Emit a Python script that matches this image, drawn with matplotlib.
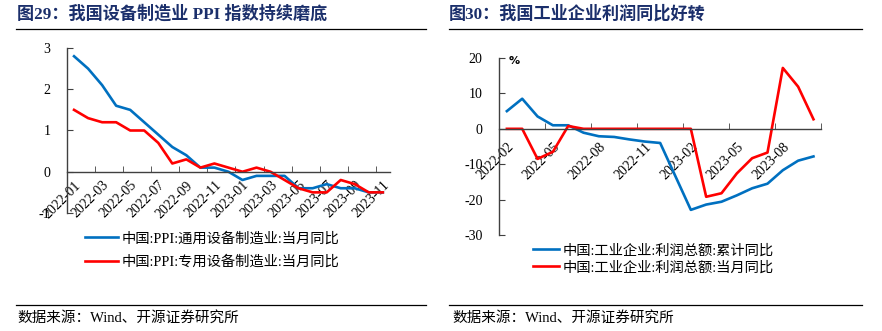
import numpy as np
import matplotlib
matplotlib.use('Agg')
import matplotlib.pyplot as plt
from matplotlib.lines import Line2D

plt.rcParams['font.family'] = ['Liberation Serif', 'Noto Sans CJK SC']
plt.rcParams['axes.unicode_minus'] = False

# left chart: PPI of equipment manufacturing, monthly yoy
months_l = ['2022-01', '2022-02', '2022-03', '2022-04', '2022-05', '2022-06',
            '2022-07', '2022-08', '2022-09', '2022-10', '2022-11', '2022-12',
            '2023-01', '2023-02', '2023-03', '2023-04', '2023-05', '2023-06',
            '2023-07', '2023-08', '2023-09', '2023-10', '2023-11']
ppi_general = [2.8, 2.5, 2.1, 1.6, 1.5, 1.2, 0.9, 0.6, 0.4, 0.1, 0.1, 0.0,
               -0.2, -0.1, -0.1, -0.1, -0.4, -0.4, -0.3, -0.4, -0.4, -0.5, -0.5]
ppi_special = [1.5, 1.3, 1.2, 1.2, 1.0, 1.0, 0.7, 0.2, 0.3, 0.1, 0.2, 0.1,
               0.0, 0.1, 0.0, -0.2, -0.4, -0.5, -0.5, -0.2, -0.3, -0.5, -0.5]
name_general = '中国:PPI:通用设备制造业:当月同比'
name_special = '中国:PPI:专用设备制造业:当月同比'

# right chart: industrial profits yoy (Jan 2023 cumulative not published)
months_r = ['2022-02', '2022-03', '2022-04', '2022-05', '2022-06', '2022-07',
            '2022-08', '2022-09', '2022-10', '2022-11', '2022-12', '2023-01',
            '2023-02', '2023-03', '2023-04', '2023-05', '2023-06', '2023-07',
            '2023-08', '2023-09', '2023-10']
profit_cum = [5.0, 8.5, 3.5, 1.0, 1.0, -1.1, -2.1, -2.3, -3.0, -3.6, -4.0, np.nan,
              -22.9, -21.4, -20.6, -18.8, -16.8, -15.5, -11.7, -9.0, -7.8]
profit_month = [0, 0, -8.5, -6.5, 0.8, 0, 0, 0, 0, 0, 0, 0,
                0, -19.2, -18.2, -12.6, -8.3, -6.7, 17.2, 11.9, 2.7]
name_cum = '中国:工业企业:利润总额:累计同比'
name_month = '中国:工业企业:利润总额:当月同比'

BLUE = '#0070C0'
RED = '#FF0000'
NAVY = '#1B2F6B'
AX = '#404040'

fig = plt.figure(figsize=(8.82, 3.31), dpi=100)


def style_axis(ax, n, step, yticks, xpad):
    ax.set_xlim(-0.5, n - 0.5)
    ax.set_ylim(yticks[0], yticks[-1])
    for s in ['top', 'right']:
        ax.spines[s].set_visible(False)
    ax.spines['bottom'].set_position(('data', 0))
    for s in ['left', 'bottom']:
        ax.spines[s].set_color(AX)
        ax.spines[s].set_linewidth(1.0)
    ax.set_yticks(yticks)
    ax.tick_params(axis='y', direction='in', length=4, color=AX, pad=12,
                   labelsize=10)
    ax.set_xticks(np.arange(-0.5, n, step), minor=True)
    ax.tick_params(axis='x', which='minor', direction='in', length=4, color=AX)
    ax.tick_params(axis='x', which='major', length=0, pad=xpad, labelsize=10)


# ---- left chart
ax1 = fig.add_axes([0.076, 0.3565, 0.366, 0.4985])
x_l = np.arange(len(months_l))
ax1.plot(x_l, ppi_general, color=BLUE, lw=1.9, label=name_general)
ax1.plot(x_l, ppi_special, color=RED, lw=1.9, label=name_special)
style_axis(ax1, len(months_l), 2, [-1, 0, 1, 2, 3], 5)
ax1.set_xticks(x_l[::2])
ax1.set_xticklabels(months_l[::2], rotation=45, ha='right', va='top',
                    rotation_mode='anchor')
ax1.set_yticklabels(['-1', '0', '1', '2', '3'])
fig.legend(*ax1.get_legend_handles_labels(), loc='upper left',
           bbox_to_anchor=(85 / 882, 1 - 232 / 331), frameon=False,
           borderpad=0, borderaxespad=0, handlelength=2.3, handletextpad=0.25,
           labelspacing=0.7, fontsize=10.3)

# ---- right chart
ax2 = fig.add_axes([0.566, 0.290, 0.365, 0.5347])
x_r = np.arange(len(months_r))
cum = np.array(profit_cum)
ok = ~np.isnan(cum)
ax2.plot(x_r[ok], cum[ok], color=BLUE, lw=1.9, label=name_cum)
ax2.plot(x_r, profit_month, color=RED, lw=1.9, label=name_month)
style_axis(ax2, len(months_r), 3, [-30, -20, -10, 0, 10, 20], 8)
ax2.set_xticks(x_r[::3])
ax2.set_xticklabels(months_r[::3], rotation=45, ha='right', va='top',
                    rotation_mode='anchor')
ax2.text(0.045, 0.985, '%', transform=ax2.transAxes, fontsize=8,
         fontweight='bold', family='DejaVu Sans', ha='center', va='center')
fig.legend(*ax2.get_legend_handles_labels(), loc='upper left',
           bbox_to_anchor=(533 / 882, 1 - 244 / 331), frameon=False,
           borderpad=0, borderaxespad=0, handlelength=1.8, handletextpad=0.25,
           labelspacing=0.25, fontsize=10.3)

# ---- titles, rules and sources
fig.text(17 / 882, 1 - 14 / 331, '图29：我国设备制造业 PPI 指数持续磨底',
         fontsize=12.3, fontweight='bold', color=NAVY, va='center')
fig.text(449 / 882, 1 - 14 / 331, '图30：我国工业企业利润同比好转',
         fontsize=12.3, fontweight='bold', color=NAVY, va='center')
for x0, x1 in [(16, 426), (449, 862)]:
    for y in [29, 305]:
        fig.add_artist(Line2D([x0 / 882, x1 / 882], [1 - y / 331, 1 - y / 331],
                              transform=fig.transFigure, color='black', lw=0.9))
fig.text(17 / 882, 1 - 318 / 331, '数据来源：Wind、开源证券研究所',
         fontsize=10.5, va='center')
fig.text(452 / 882, 1 - 318 / 331, '数据来源：Wind、开源证券研究所',
         fontsize=10.5, va='center')

fig.savefig('out.png', dpi=100)
